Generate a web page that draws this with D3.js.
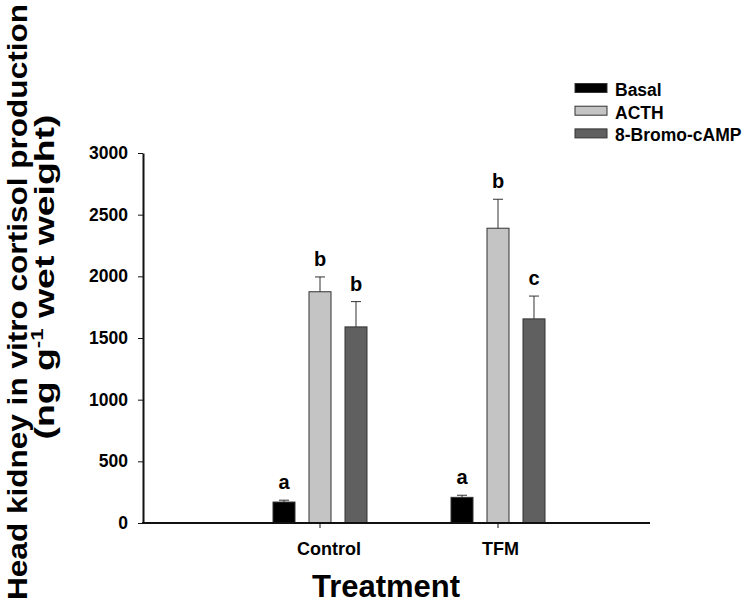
<!DOCTYPE html>
<html>
<head>
<meta charset="utf-8">
<script src="https://cdn.jsdelivr.net/npm/d3@7/dist/d3.min.js"></script>
<style>
  html, body { margin: 0; padding: 0; background: #fff; }
  svg { display: block; font-family: "Liberation Sans", Arial, sans-serif; font-weight: bold; }
</style>
</head>
<body>
<svg id="chart" width="752" height="604"></svg>
<script>
// ---- data ----
const categories = ["Control", "TFM"];
const seriesNames = ["Basal", "ACTH", "8-Bromo-cAMP"];
const basalValues = [170, 208];
const basalErrors = [15, 17];
const acthValues = [1875, 2390];
const acthErrors = [120, 235];
const bromoValues = [1590, 1655];
const bromoErrors = [205, 185];
const basalLetters = ["a", "a"];
const acthLetters = ["b", "b"];
const bromoLetters = ["b", "c"];
const yTicks = [0, 500, 1000, 1500, 2000, 2500, 3000];
const seriesColors = ["#000000", "#c4c4c4", "#606060"];

const seriesValues = [basalValues, acthValues, bromoValues];
const seriesErrors = [basalErrors, acthErrors, bromoErrors];
const seriesLetters = [basalLetters, acthLetters, bromoLetters];

const rows = [];
categories.forEach((c, ci) => {
  seriesNames.forEach((s, si) => {
    rows.push({cat: c, series: s, value: seriesValues[si][ci], err: seriesErrors[si][ci], letter: seriesLetters[si][ci], color: seriesColors[si]});
  });
});

// ---- layout ----
const svg = d3.select("#chart");
const axisX0 = 143, axisX1 = 650;
const yTop = 153, yBottom = 523;

const y = d3.scaleLinear().domain([0, 3000]).range([yBottom, yTop]);
const x = d3.scaleBand().domain(categories).range([231, 587]);
const xs = d3.scaleBand().domain(seriesNames).range([-61, 61]).paddingInner(0.389).paddingOuter(0.389);

// bars
const g = svg.append("g");
g.selectAll("rect.bar").data(rows).join("rect")
  .attr("class", "bar")
  .attr("x", d => x(d.cat) + x.bandwidth() / 2 + xs(d.series))
  .attr("width", xs.bandwidth())
  .attr("y", d => y(d.value))
  .attr("height", d => y(0) - y(d.value))
  .attr("fill", d => d.color)
  .attr("stroke", "#333")
  .attr("stroke-width", 1);

// error bars (upper only)
const cx = d => x(d.cat) + x.bandwidth() / 2 + xs(d.series) + xs.bandwidth() / 2;
g.selectAll("line.err").data(rows).join("line")
  .attr("x1", cx).attr("x2", cx)
  .attr("y1", d => y(d.value)).attr("y2", d => y(d.value + d.err))
  .attr("stroke", "#333").attr("stroke-width", 1);
g.selectAll("line.cap").data(rows).join("line")
  .attr("x1", d => cx(d) - 5).attr("x2", d => cx(d) + 5)
  .attr("y1", d => y(d.value + d.err)).attr("y2", d => y(d.value + d.err))
  .attr("stroke", "#333").attr("stroke-width", 1);

// significance letters
g.selectAll("text.sig").data(rows).join("text")
  .attr("x", cx)
  .attr("y", d => y(d.value + d.err) - 11)
  .attr("text-anchor", "middle")
  .attr("font-size", 20)
  .text(d => d.letter);

// y axis
const yAxis = svg.append("g")
  .attr("transform", `translate(${axisX0},0)`)
  .call(d3.axisLeft(y).tickValues(yTicks).tickFormat(d3.format("d")).tickSize(5).tickSizeOuter(0).tickPadding(10));
yAxis.select(".domain").attr("stroke", "#111").attr("stroke-width", 2);
yAxis.selectAll(".tick line").attr("stroke", "#111").attr("stroke-width", 1);
yAxis.selectAll(".tick text").attr("font-size", 17.5).attr("font-family", "Liberation Sans, Arial, sans-serif").attr("font-weight", "bold").attr("fill", "#000");

// x axis
svg.append("line")
  .attr("x1", axisX0 - 1).attr("x2", axisX1)
  .attr("y1", yBottom).attr("y2", yBottom)
  .attr("stroke", "#111").attr("stroke-width", 2);
const xAxis = svg.append("g")
  .attr("transform", `translate(0,${yBottom})`)
  .call(d3.axisBottom(x).tickSize(5).tickSizeOuter(0).tickPadding(14));
xAxis.select(".domain").remove();
xAxis.selectAll(".tick line").attr("stroke", "#111").attr("stroke-width", 1);
xAxis.selectAll(".tick text").attr("font-size", 18).attr("font-family", "Liberation Sans, Arial, sans-serif").attr("font-weight", "bold").attr("fill", "#000")
  .attr("dx", (d, i) => i === 0 ? 9 : 2.5);

// x title
svg.append("text")
  .attr("x", 386).attr("y", 597)
  .attr("text-anchor", "middle")
  .attr("font-size", 31)
  .text("Treatment");

// y title
const yt = svg.append("g").attr("transform", "translate(27,302) rotate(-90)");
yt.append("text")
  .attr("x", 0).attr("y", 0)
  .attr("text-anchor", "middle")
  .attr("font-size", 28.5)
  .attr("textLength", 596).attr("lengthAdjust", "spacingAndGlyphs")
  .text("Head kidney in vitro cortisol production");
const yt2 = svg.append("g").attr("transform", "translate(54,277) rotate(-90)");
const t2 = yt2.append("text")
  .attr("x", 0).attr("y", 0)
  .attr("text-anchor", "middle")
  .attr("font-size", 28.5)
  .attr("textLength", 325).attr("lengthAdjust", "spacingAndGlyphs");
t2.append("tspan").text("(ng g");
t2.append("tspan").attr("font-size", 17).attr("dy", -11).text("-1");
t2.append("tspan").attr("dy", 11).text(" wet weight)");

// legend
const legend = svg.append("g").attr("transform", "translate(575,88)");
const li = legend.selectAll("g").data(seriesNames).join("g")
  .attr("transform", (d, i) => `translate(0,${i * 22.7})`);
li.append("rect")
  .attr("x", 0).attr("y", -4.5).attr("width", 32).attr("height", 9)
  .attr("fill", (d, i) => seriesColors[i])
  .attr("stroke", "#333").attr("stroke-width", 1);
li.append("text")
  .attr("x", 40).attr("y", 8)
  .attr("font-size", 17.5)
  .text(d => d);
</script>
</body>
</html>
